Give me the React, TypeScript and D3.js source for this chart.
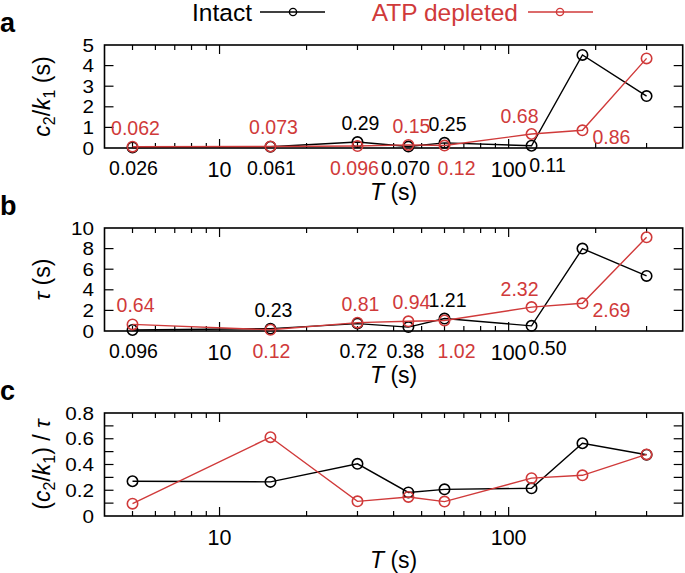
import React from "react";
import * as d3 from "d3";

// sampling times (s)
const T = [5, 15, 30, 45, 60, 120, 180, 300];

// panel a: c2/k1 (s)
const c2k1Intact = [0.026, 0.061, 0.29, 0.07, 0.25, 0.11, 4.52, 2.52];
const c2k1Depleted = [0.062, 0.073, 0.096, 0.15, 0.12, 0.68, 0.86, 4.35];
const c2k1IntactLabels = ["0.026", "0.061", "0.29", "0.070", "0.25", "0.11", "", ""];
const c2k1DepletedLabels = ["0.062", "0.073", "0.096", "0.15", "0.12", "0.68", "0.86", ""];
const c2k1IntactPlace = ["below", "below", "above", "belowLeft", "above", "belowRight", "", ""];
const c2k1DepletedPlace = ["above", "above", "belowLeft", "above", "belowNudge", "aboveLeft", "right", ""];

// panel b: tau (s)
const tauIntact = [0.096, 0.23, 0.72, 0.38, 1.21, 0.5, 8.0, 5.35];
const tauDepleted = [0.64, 0.12, 0.81, 0.94, 1.02, 2.32, 2.69, 9.1];
const tauIntactLabels = ["0.096", "0.23", "0.72", "0.38", "1.21", "0.50", "", ""];
const tauDepletedLabels = ["0.64", "0.12", "0.81", "0.94", "1.02", "2.32", "2.69", ""];
const tauIntactPlace = ["below", "above", "below", "belowLeft", "above", "belowRight", "", ""];
const tauDepletedPlace = ["above", "below", "above", "above", "belowNudge", "aboveLeft", "right", ""];

// panel c: (c2/k1)/tau
const ratioIntact = [0.27, 0.265, 0.405, 0.183, 0.207, 0.215, 0.565, 0.476];
const ratioDepleted = [0.096, 0.612, 0.114, 0.148, 0.112, 0.294, 0.316, 0.478];

const xTickLabels = [10, 100];
const xMinor = [5, 6, 7, 8, 9, 20, 30, 40, 50, 60, 70, 80, 90, 200, 300];

const BLACK = "#000";
const RED = "#d03a3a";
const FONT = "'Liberation Sans', Arial, sans-serif";

const W = 685;
const H = 573;
const left = 104.5;
const right = 682.7;
const panelH = 103;

const x = d3.scaleLog().domain([4, 400]).range([left, right]);

type Series = {
  values: number[];
  color: string;
  labels?: string[];
  place?: string[];
};

type PanelProps = {
  top: number;
  letter: string;
  yMax: number;
  yTicks: number[];
  yLabelTicks: number[];
  yFmt: (v: number) => string;
  yTitle: React.ReactNode;
  series: Series[];
};

const Panel = ({ top, letter, yMax, yTicks, yLabelTicks, yFmt, yTitle, series }: PanelProps) => {
  const bottom = top + panelH;
  const y = d3.scaleLinear().domain([0, yMax]).range([bottom, top]);
  const line = d3
    .line<number>()
    .x((_, i) => x(T[i]))
    .y((d) => y(d));

  // label centre relative to its point
  const labelPos = (p: string, i: number, v: number) => {
    const px = x(T[i]);
    const py = y(v);
    switch (p) {
      case "above":
        return [px + 3, py - 19];
      case "below":
        return [px + 1, bottom + 20];
      case "belowLeft":
        return [px - 3, bottom + 20];
      case "belowNudge":
        return [px + 12, bottom + 20];
      case "belowRight":
        return [px + 16, bottom + 17];
      case "aboveLeft":
        return [px - 12, py - 18];
      case "right":
        return [px + 29, py + 7];
      default:
        return [px, py];
    }
  };

  return (
    <g>
      <text x={0} y={top - 13} fontSize={27} fontWeight="bold" fontFamily={FONT}>
        {letter}
      </text>
      {/* x ticks (bottom and top, inward) */}
      {xTickLabels.map((t) => (
        <g key={"M" + t}>
          <line x1={x(t)} x2={x(t)} y1={bottom} y2={bottom - 9} stroke={BLACK} strokeWidth={1.2} />
          <line x1={x(t)} x2={x(t)} y1={top} y2={top + 9} stroke={BLACK} strokeWidth={1.2} />
          <text x={x(t)} y={bottom + 29} textAnchor="middle" fontSize={21.5} fontFamily={FONT}>
            {t}
          </text>
        </g>
      ))}
      {xMinor.map((t) => (
        <g key={"m" + t}>
          <line x1={x(t)} x2={x(t)} y1={bottom} y2={bottom - 5} stroke={BLACK} strokeWidth={1.2} />
          <line x1={x(t)} x2={x(t)} y1={top} y2={top + 5} stroke={BLACK} strokeWidth={1.2} />
        </g>
      ))}
      {/* y ticks */}
      {yTicks.map((t) => (
        <g key={"y" + t}>
          <line x1={left} x2={left + 9} y1={y(t)} y2={y(t)} stroke={BLACK} strokeWidth={1.2} />
          <line x1={right} x2={right - 9} y1={y(t)} y2={y(t)} stroke={BLACK} strokeWidth={1.2} />
        </g>
      ))}
      {/* y tick labels: wide, tall digits as in the reference */}
      {yLabelTicks.map((t) => (
        <g key={"yl" + t} transform={`translate(94,${y(t) + 6.6}) scale(1.15,1)`}>
          <text x={0} y={0} textAnchor="end" fontSize={18} fontFamily={FONT}>
            {yFmt(t)}
          </text>
        </g>
      ))}
      <rect x={left} y={top} width={right - left} height={panelH} fill="none" stroke={BLACK} strokeWidth={1.6} />
      {/* y title */}
      <text
        transform={`translate(50,${(top + bottom) / 2}) rotate(-90)`}
        textAnchor="middle"
        fontSize={23}
        fontFamily={FONT}
      >
        {yTitle}
      </text>
      {/* x title */}
      <text x={(left + right) / 2} y={bottom + 52} textAnchor="middle" fontSize={23} fontFamily={FONT}>
        <tspan fontStyle="italic">T</tspan> (s)
      </text>
      {series.map((s, si) => (
        <g key={"s" + si}>
          <path d={line(s.values) || ""} fill="none" stroke={s.color} strokeWidth={1.4} />
          {s.values.map((v, i) => (
            <circle key={i} cx={x(T[i])} cy={y(v)} r={5.2} fill="none" stroke={s.color} strokeWidth={1.6} />
          ))}
        </g>
      ))}
      {series.map((s, si) =>
        s.labels
          ? s.labels.map((lab, i) => {
              if (!lab) return null;
              const [lx, ly] = labelPos(s.place![i], i, s.values[i]);
              return (
                <text
                  key={`l${si}-${i}`}
                  x={lx}
                  y={ly + 7}
                  textAnchor="middle"
                  fontSize={19.5}
                  fontFamily={FONT}
                  fill={s.color}
                >
                  {lab}
                </text>
              );
            })
          : null
      )}
    </g>
  );
};

const sub = (s: string) => (
  <tspan fontSize={16} dy={5}>
    {s}
  </tspan>
);

export default function App() {
  return (
    <div style={{ position: "absolute", left: 0, top: 0 }}>
      <svg width={W} height={H} style={{ display: "block", background: "#fff" }}>
        {/* legend */}
        <g fontFamily={FONT} fontSize={24.5}>
          <text x={252} y={21} textAnchor="end" fill={BLACK}>
            Intact
          </text>
          <line x1={260} x2={325} y1={12} y2={12} stroke={BLACK} strokeWidth={1.4} />
          <circle cx={293} cy={12} r={3.6} fill="none" stroke={BLACK} strokeWidth={1.4} />
          <text x={518} y={21} textAnchor="end" fill={RED}>
            ATP depleted
          </text>
          <line x1={528} x2={593} y1={12} y2={12} stroke={RED} strokeWidth={1.4} />
          <circle cx={560} cy={12} r={3.6} fill="none" stroke={RED} strokeWidth={1.4} />
        </g>
        <Panel
          top={45}
          letter="a"
          yMax={5}
          yTicks={[1, 2, 3, 4]}
          yLabelTicks={[0, 1, 2, 3, 4, 5]}
          yFmt={(v) => String(v)}
          yTitle={
            <>
              <tspan fontStyle="italic">c</tspan>
              {sub("2")}
              <tspan dy={-5}>/</tspan>
              <tspan fontStyle="italic">k</tspan>
              {sub("1")}
              <tspan dy={-5}> (s)</tspan>
            </>
          }
          series={[
            { values: c2k1Intact, color: BLACK, labels: c2k1IntactLabels, place: c2k1IntactPlace },
            { values: c2k1Depleted, color: RED, labels: c2k1DepletedLabels, place: c2k1DepletedPlace },
          ]}
        />
        <Panel
          top={228}
          letter="b"
          yMax={10}
          yTicks={[2, 4, 6, 8]}
          yLabelTicks={[0, 2, 4, 6, 8, 10]}
          yFmt={(v) => String(v)}
          yTitle={
            <>
              <tspan fontStyle="italic">τ</tspan> (s)
            </>
          }
          series={[
            { values: tauIntact, color: BLACK, labels: tauIntactLabels, place: tauIntactPlace },
            { values: tauDepleted, color: RED, labels: tauDepletedLabels, place: tauDepletedPlace },
          ]}
        />
        <Panel
          top={413}
          letter="c"
          yMax={0.8}
          yTicks={[0.1, 0.2, 0.3, 0.4, 0.5, 0.6, 0.7]}
          yLabelTicks={[0, 0.2, 0.4, 0.6, 0.8]}
          yFmt={(v) => (v === 0 ? "0" : d3.format(".1f")(v))}
          yTitle={
            <>
              (<tspan fontStyle="italic">c</tspan>
              {sub("2")}
              <tspan dy={-5}>/</tspan>
              <tspan fontStyle="italic">k</tspan>
              {sub("1")}
              <tspan dy={-5}>) / </tspan>
              <tspan fontStyle="italic">τ</tspan>
            </>
          }
          series={[
            { values: ratioIntact, color: BLACK },
            { values: ratioDepleted, color: RED },
          ]}
        />
      </svg>
    </div>
  );
}
